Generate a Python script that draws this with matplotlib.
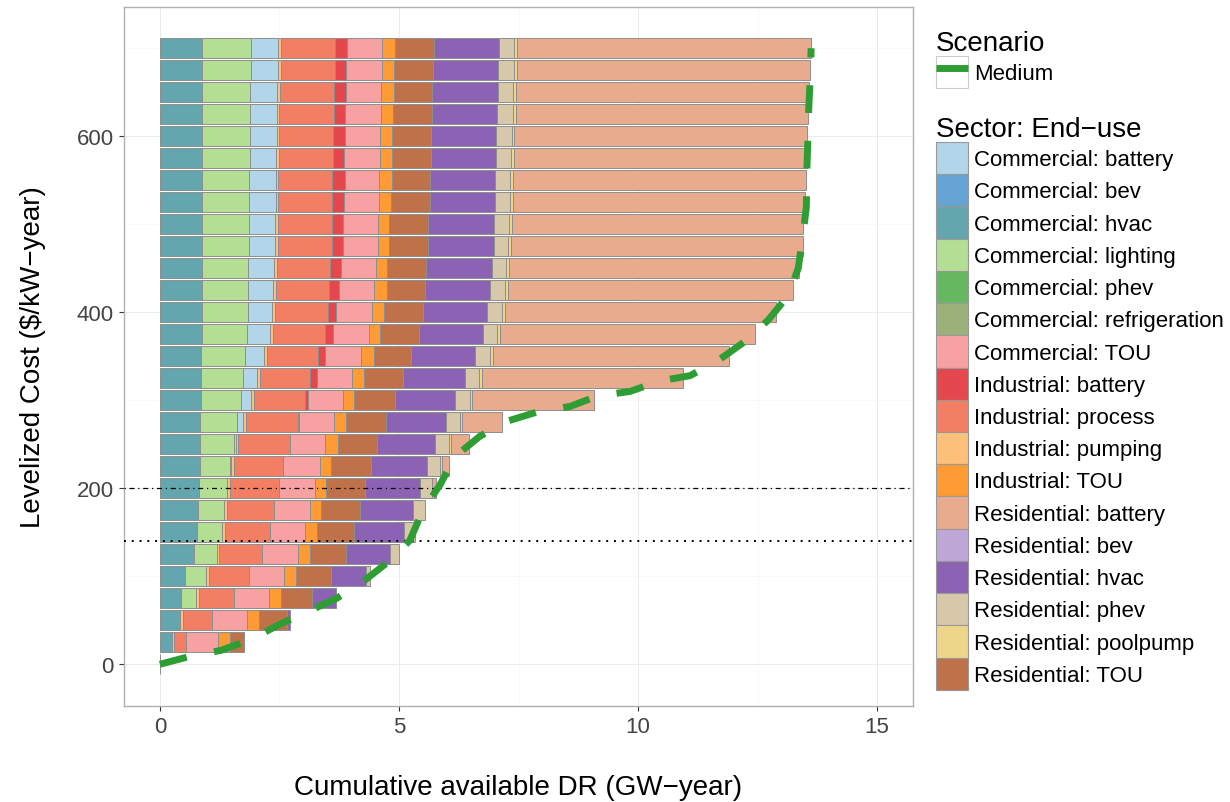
import numpy as np
import matplotlib
matplotlib.use("Agg")
import matplotlib.pyplot as plt
from matplotlib.patches import Patch
from matplotlib.lines import Line2D
from matplotlib.legend_handler import HandlerTuple

plt.rcParams['font.family'] = ['Liberation Sans', 'DejaVu Sans']

# levelized cost of each supply step ($/kW-year)
costs = [0, 25, 50, 75, 100, 125, 150, 175, 200, 225, 250, 275, 300, 325, 350,
         375, 400, 425, 450, 475, 500, 525, 550, 575, 600, 625, 650, 675, 700]

# available DR (GW-year) per end-use at each cost step, in stacking order
c_hvac = [0, 0.26, 0.42, 0.45, 0.52, 0.72, 0.78, 0.80, 0.82, 0.84, 0.84, 0.84, 0.86, 0.86, 0.86,
          0.88, 0.88, 0.88, 0.88, 0.88, 0.88, 0.88, 0.88, 0.88, 0.88, 0.88, 0.88, 0.88, 0.88]
c_lighting = [0, 0, 0, 0.30, 0.45, 0.47, 0.51, 0.54, 0.59, 0.63, 0.70, 0.78, 0.84, 0.88, 0.91,
              0.94, 0.96, 0.97, 0.97, 0.98, 0.98, 0.99, 0.99, 1.00, 1.00, 1.00, 1.01, 1.02, 1.02]
c_battery = [0, 0, 0, 0, 0, 0, 0, 0, 0, 0.02, 0.05, 0.12, 0.21, 0.30, 0.40,
             0.48, 0.51, 0.52, 0.54, 0.55, 0.55, 0.55, 0.55, 0.55, 0.56, 0.56, 0.56, 0.58, 0.58]
i_pumping = [0, 0.04, 0.06, 0.06, 0.06, 0.05, 0.07, 0.06, 0.06, 0.06, 0.05, 0.06, 0.06, 0.05, 0.07,
             0.06, 0.06, 0.06, 0.06, 0.06, 0.06, 0.06, 0.06, 0.06, 0.06, 0.06, 0.06, 0.06, 0.06]
i_process = [0, 0.24, 0.62, 0.75, 0.84, 0.90, 0.94, 0.98, 1.02, 1.03, 1.08, 1.08, 1.07, 1.06, 1.07,
             1.09, 1.10, 1.11, 1.11, 1.12, 1.12, 1.12, 1.13, 1.13, 1.13, 1.14, 1.14, 1.13, 1.13]
i_battery = [0, 0, 0, 0, 0, 0, 0, 0, 0, 0, 0.01, 0.03, 0.06, 0.13, 0.14,
             0.18, 0.18, 0.21, 0.22, 0.24, 0.24, 0.26, 0.26, 0.24, 0.24, 0.23, 0.24, 0.23, 0.25]
c_tou = [0, 0.68, 0.72, 0.73, 0.73, 0.75, 0.73, 0.75, 0.75, 0.77, 0.72, 0.74, 0.73, 0.74, 0.75,
         0.74, 0.74, 0.73, 0.74, 0.73, 0.73, 0.73, 0.72, 0.75, 0.73, 0.75, 0.74, 0.75, 0.73]
i_tou = [0, 0.24, 0.26, 0.24, 0.24, 0.24, 0.26, 0.25, 0.24, 0.23, 0.27, 0.24, 0.24, 0.24, 0.27,
         0.24, 0.25, 0.27, 0.24, 0.24, 0.24, 0.25, 0.26, 0.25, 0.26, 0.25, 0.26, 0.24, 0.26]
r_tou = [0, 0.30, 0.58, 0.66, 0.73, 0.77, 0.78, 0.80, 0.82, 0.83, 0.82, 0.83, 0.84, 0.82, 0.79,
         0.80, 0.82, 0.79, 0.81, 0.81, 0.81, 0.80, 0.80, 0.81, 0.81, 0.82, 0.81, 0.82, 0.82]
r_hvac = [0, 0, 0.07, 0.50, 0.74, 0.91, 1.03, 1.12, 1.15, 1.18, 1.22, 1.26, 1.27, 1.31, 1.33,
          1.34, 1.35, 1.37, 1.37, 1.37, 1.37, 1.36, 1.36, 1.36, 1.36, 1.36, 1.37, 1.37, 1.37]
r_phev = [0, 0, 0, 0, 0.09, 0.19, 0.23, 0.24, 0.25, 0.27, 0.28, 0.29, 0.30, 0.29, 0.32,
          0.31, 0.31, 0.31, 0.30, 0.31, 0.33, 0.33, 0.32, 0.32, 0.33, 0.33, 0.32, 0.32, 0.31]
r_poolpump = [0, 0, 0, 0, 0, 0, 0, 0, 0, 0.04, 0.04, 0.04, 0.05, 0.05, 0.05,
              0.06, 0.05, 0.05, 0.06, 0.06, 0.05, 0.05, 0.06, 0.05, 0.05, 0.06, 0.05, 0.06, 0.06]
r_battery = [0, 0, 0, 0, 0, 0, 0, 0, 0.08, 0.15, 0.38, 0.84, 2.54, 4.21, 4.95,
             5.33, 5.68, 5.98, 6.06, 6.10, 6.10, 6.12, 6.13, 6.13, 6.13, 6.12, 6.13, 6.14, 6.14]

# "Medium" scenario supply curve
medium_gw = [0, 0.63, 1.29, 1.90, 2.49, 3.10, 3.70, 4.25, 4.79, 5.23, 5.50, 5.86, 6.17, 6.69,
             7.25, 7.91, 8.58, 9.16, 9.83, 10.46, 11.09, 11.67, 12.24, 12.72, 13.14, 13.35,
             13.45, 13.52, 13.53, 13.55, 13.57, 13.60, 13.62]
medium_cost = [0, 9, 16, 28, 45, 60, 75, 94, 117, 141, 175, 204, 236, 259,
               276, 287, 293, 305, 310, 322, 328, 345, 367, 391, 419, 450,
               488, 520, 560, 594, 632, 666, 700]

stack = [
    ('Commercial: hvac', c_hvac),
    ('Commercial: lighting', c_lighting),
    ('Commercial: battery', c_battery),
    ('Industrial: pumping', i_pumping),
    ('Industrial: process', i_process),
    ('Industrial: battery', i_battery),
    ('Commercial: TOU', c_tou),
    ('Industrial: TOU', i_tou),
    ('Residential: TOU', r_tou),
    ('Residential: hvac', r_hvac),
    ('Residential: phev', r_phev),
    ('Residential: poolpump', r_poolpump),
    ('Residential: battery', r_battery),
]

colors = {
    'Commercial: battery': '#B2D5EA',
    'Commercial: bev': '#65A4D4',
    'Commercial: hvac': '#63A6AE',
    'Commercial: lighting': '#B5DE95',
    'Commercial: phev': '#66B860',
    'Commercial: refrigeration': '#9CB07A',
    'Commercial: TOU': '#F8A1A2',
    'Industrial: battery': '#E5474F',
    'Industrial: process': '#F27F63',
    'Industrial: pumping': '#FCC07A',
    'Industrial: TOU': '#FE9B35',
    'Residential: battery': '#E9AB8E',
    'Residential: bev': '#BEA6D6',
    'Residential: hvac': '#8C62B4',
    'Residential: phev': '#D6C8A9',
    'Residential: poolpump': '#EDD68A',
    'Residential: TOU': '#BF7149',
}
green = '#2E9E34'

fig = plt.figure(figsize=(12.3, 8.03), dpi=100)
ax = fig.add_axes([124 / 1230, 1 - 707 / 803, 789 / 1230, 699.5 / 803])

y = np.array(costs)
left = np.zeros(len(costs))
for k, (name, vals) in enumerate(stack):
    vals = np.array(vals)
    m = np.ones(len(vals), bool) if k == 0 else vals > 0
    ax.barh(y[m], vals[m], left=left[m], height=22.5, color=colors[name],
            edgecolor='#8E8E8E', linewidth=0.7, zorder=2)
    left += vals

ax.axhline(200, color='black', lw=0.9, ls=(0, (1, 3, 4, 3)), zorder=3)
ax.axhline(140, color='black', lw=1.4, ls=(0, (1, 3)), zorder=3)
ax.plot(medium_gw, medium_cost, color=green, lw=5, dashes=(4, 4),
        dash_capstyle='butt', zorder=4)

ax.set_xlim(-0.75, 15.75)
ax.set_ylim(-47.4, 747.4)
ax.set_xticks([0, 5, 10, 15])
ax.set_yticks([0, 200, 400, 600])
ax.set_xticks([2.5, 7.5, 12.5], minor=True)
ax.set_yticks([100, 300, 500, 700], minor=True)
ax.grid(which='major', color='#EBEBEB', lw=0.7, zorder=0)
ax.grid(which='minor', color='#F5F5F5', lw=0.5, zorder=0)
ax.set_axisbelow(True)
ax.tick_params(which='major', length=3.5, width=0.8, color='#333333',
               labelsize=16, labelcolor='#444444', pad=4)
ax.tick_params(which='minor', length=0)
for s in ax.spines.values():
    s.set_color('#B0B0B0')
    s.set_linewidth(1)

ax.set_xlabel('Cumulative available DR (GW\u2212year)', fontsize=20)
ax.set_ylabel('Levelized Cost (\\$/kW\u2212year)', fontsize=20, va='center')
ax.xaxis.set_label_coords(0.5, -0.097)
ax.yaxis.set_label_coords(-0.115, 0.5)

# legends
key_style = dict(frameon=False, fontsize=16, title_fontsize=20, alignment='left',
                 handlelength=1.45, handleheight=1.854, handletextpad=0.25,
                 borderpad=0, borderaxespad=0, labelspacing=0, loc='upper left')

fig.legend(handles=[(Patch(facecolor='white', edgecolor='#CCCCCC', lw=0.8),
                     Line2D([], [], color=green, lw=5, solid_capstyle='butt'))],
           labels=['Medium'], handler_map={tuple: HandlerTuple(ndivide=1)},
           title='Scenario', bbox_to_anchor=(936 / 1230, 1 - 31 / 803), **key_style)

legend_order = list(colors.keys())
handles = [Patch(facecolor=colors[n], edgecolor='#999999', lw=0.8) for n in legend_order]
fig.legend(handles=handles, labels=legend_order, title='Sector: End\u2212use',
           bbox_to_anchor=(936 / 1230, 1 - 117 / 803), **key_style)

fig.savefig('out.png', dpi=100)
